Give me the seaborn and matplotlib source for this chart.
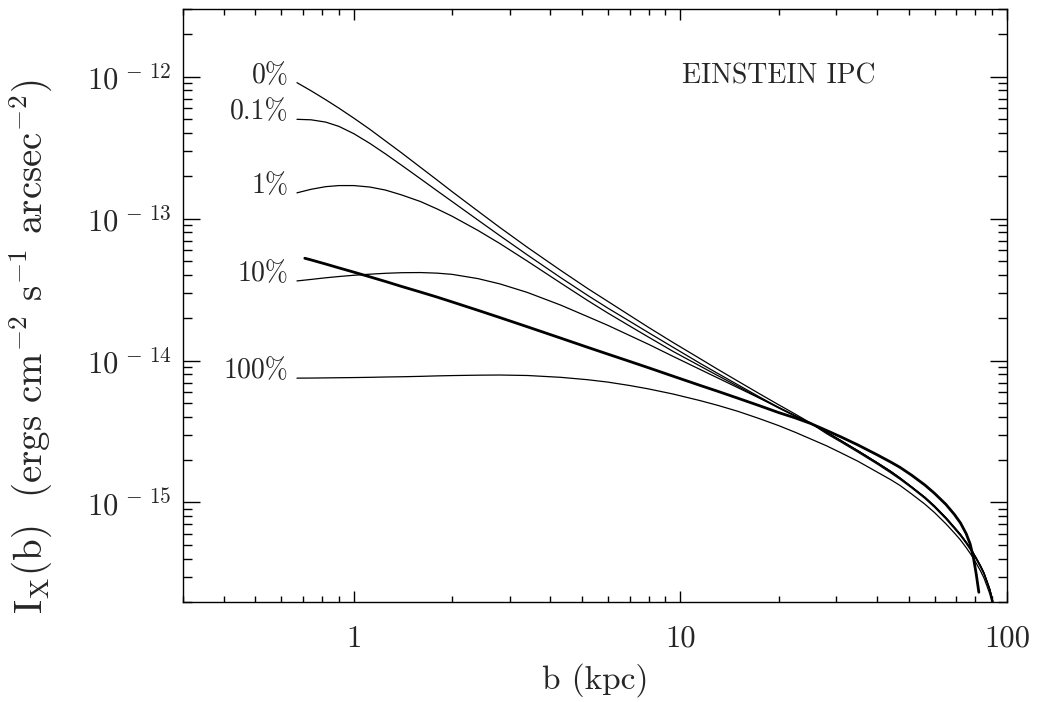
import matplotlib
matplotlib.use("Agg")
import matplotlib.pyplot as plt
import numpy as np
import pandas as pd
import seaborn as sns
from matplotlib.ticker import FixedLocator, FixedFormatter, LogLocator, NullFormatter

# Projected radius b (kpc) at which each model profile is sampled
b_core = [0.67, 0.74, 0.82, 0.9, 1.0, 1.12, 1.25, 1.4, 1.6, 1.8, 2.0, 2.4, 2.8, 3.4,
          4.3, 5.2, 6.0, 7.0, 8.0, 9.5, 11.5, 13, 15, 17.5, 20, 22.5, 25]
b_tail = [28, 31, 35, 40, 44, 47, 51, 56, 60, 65, 69, 72, 75, 78, 80.5, 83, 85,
          87, 88.5, 90, 91.2, 92.3]
# Radii of the observed (thick) profile
b_obs = [0.708, 0.74, 0.82, 0.9, 1.0, 1.12, 1.25, 1.4, 1.6, 1.8, 2.0, 2.4, 2.8, 3.4,
         4.3, 5.2, 6.0, 7.0, 8.0, 9.5, 11.5, 13, 15, 17.5, 20, 22.5, 25,
         28, 31, 35, 40, 44, 47, 51, 56, 60, 65, 69, 72, 75, 77.1, 78.9, 80.5, 82.0]

# Surface brightness in units of 1e-15 ergs cm^-2 s^-1 arcsec^-2
I_0pct = [908, 796, 689, 601, 511, 426, 353, 291, 230, 187, 155, 113, 86.7, 62.8,
          43.2, 32.2, 26.1, 20.8, 17.1, 13.4, 10.3, 8.69, 7.16, 5.82, 4.88, 4.19, 3.64]
I_01pct = [501, 497, 479, 447, 397, 339, 286, 238, 191, 157, 132, 97.7, 75.9, 55.5,
           38.4, 28.8, 23.4, 18.9, 15.7, 12.4, 9.55, 8.13, 6.75, 5.53, 4.68, 4.06, 3.62]
I_1pct = [152, 161, 168, 171, 171, 167, 159, 147, 132, 117, 104, 82.6, 66.8, 50.2,
          35.2, 26.5, 21.6, 17.5, 14.6, 11.6, 9.14, 7.85, 6.58, 5.45, 4.63, 4.05, 3.62]
I_10pct = [36.4, 37.3, 38.3, 39.1, 39.9, 40.6, 41.2, 41.6, 41.7, 41.3, 40.5, 37.8, 34.7, 30.2,
           24.6, 20.4, 17.7, 15.0, 13.0, 10.7, 8.65, 7.55, 6.44, 5.42, 4.67, 4.09, 3.63]
I_100pct = [7.52, 7.53, 7.55, 7.57, 7.59, 7.62, 7.66, 7.69, 7.74, 7.80, 7.84, 7.89, 7.91, 7.85,
            7.62, 7.33, 7.05, 6.67, 6.31, 5.81, 5.22, 4.84, 4.39, 3.89, 3.48, 3.12, 2.81]

# Outer profiles, where the low-dropout models run together
tail_low = [3.13, 2.73, 2.31, 1.91, 1.66, 1.49, 1.29, 1.09, 0.944, 0.782, 0.668,
            0.596, 0.525, 0.459, 0.406, 0.357, 0.319, 0.275, 0.246, 0.213, 0.180, 0.150]
tail_10pct = [3.06, 2.67, 2.26, 1.87, 1.62, 1.46, 1.27, 1.07, 0.925, 0.766, 0.655,
              0.584, 0.515, 0.450, 0.398, 0.350, 0.313, 0.270, 0.241, 0.209, 0.176, 0.147]
tail_100pct = [2.51, 2.24, 1.95, 1.64, 1.45, 1.32, 1.15, 0.975, 0.849, 0.708, 0.610,
               0.545, 0.481, 0.422, 0.373, 0.329, 0.294, 0.255, 0.228, 0.197, 0.167, 0.139]

I_obs = [52.6, 51.2, 47.9, 45.0, 42.0, 38.9, 36.1, 33.3, 30.4, 28.0, 25.9, 22.6, 20.1, 17.3,
         14.4, 12.4, 11.1, 9.86, 8.89, 7.76, 6.68, 6.08, 5.43, 4.80, 4.30, 3.94, 3.61,
         3.22, 2.90, 2.54, 2.17, 1.93, 1.77, 1.56, 1.33, 1.16, 0.970, 0.824, 0.719, 0.603,
         0.511, 0.410, 0.313, 0.233]

model_labels = ["0%", "0.1%", "1%", "10%", "100%"]
model_core = [I_0pct, I_01pct, I_1pct, I_10pct, I_100pct]
model_tail = [tail_low, tail_low, tail_low, tail_10pct, tail_100pct]
unit = 1e-15

y_ticks = [1e-15, 1e-14, 1e-13, 1e-12]
y_ticklabels = [r"$10^{\,-\,15}$", r"$10^{\,-\,14}$", r"$10^{\,-\,13}$", r"$10^{\,-\,12}$"]
x_ticks = [1, 10, 100]
x_ticklabels = ["1", "10", "100"]

sns.set_style("ticks")
plt.rcParams.update({
    "font.family": ["cmr10", "DejaVu Serif"],
    "mathtext.fontset": "cm",
    "axes.unicode_minus": False,
    "axes.linewidth": 1.0,
    "axes.edgecolor": "black",
})

W, H = 1038, 702
fig = plt.figure(figsize=(W / 100, H / 100), dpi=100)
ax = fig.add_axes([183 / W, 1 - 601.7 / H, (1007 - 183) / W, (601.7 - 9) / H])
ax.set_xscale("log")
ax.set_yscale("log")

b_model = b_core + b_tail
rows = []
for lab, core, tail in zip(model_labels, model_core, model_tail):
    vals = core + tail
    assert len(vals) == len(b_model)
    for b, v in zip(b_model, vals):
        rows.append({"model": lab, "b": b, "I": v * unit})
models = pd.DataFrame(rows)
assert len(b_obs) == len(I_obs)
obs = pd.DataFrame({"b": b_obs, "I": np.array(I_obs) * unit})

sns.lineplot(data=models, x="b", y="I", units="model", estimator=None, sort=False,
             color="black", lw=0.9, legend=False, ax=ax)
sns.lineplot(data=obs, x="b", y="I", estimator=None, sort=False,
             color="black", lw=2.0, legend=False, ax=ax)

ax.set_xlim(0.3, 100)
ax.set_ylim(2e-16, 3e-12)

ax.xaxis.set_major_locator(FixedLocator(x_ticks))
ax.xaxis.set_major_formatter(FixedFormatter(x_ticklabels))
ax.xaxis.set_minor_locator(LogLocator(base=10, subs=np.arange(2, 10), numticks=20))
ax.xaxis.set_minor_formatter(NullFormatter())
ax.yaxis.set_major_locator(FixedLocator(y_ticks))
ax.yaxis.set_major_formatter(FixedFormatter(y_ticklabels))
ax.yaxis.set_minor_locator(LogLocator(base=10, subs=np.arange(2, 10), numticks=20))
ax.yaxis.set_minor_formatter(NullFormatter())

ax.tick_params(which="both", direction="in", top=True, right=True, color="black", width=1.0)
ax.tick_params(axis="x", which="major", length=8, pad=17, labelsize=22)
ax.tick_params(axis="x", which="minor", length=4)
ax.tick_params(axis="y", which="major", length=12.5, pad=8, labelsize=22)
ax.tick_params(axis="y", which="minor", length=6.3)
ax.set_xlabel("")
ax.set_ylabel("")

# Curve labels at the inner end of each model profile
for lab, core in zip(model_labels, model_core):
    ax.annotate(lab, xy=(b_core[0], core[0] * unit), xytext=(-6, 0),
                textcoords="offset points", ha="right", va="baseline", fontsize=20)

ax.text(0.605, 0.8747, "EINSTEIN IPC", transform=ax.transAxes, ha="left",
        va="baseline", fontsize=20)

fig.text(595 / W, 1 - 680 / H, "b (kpc)", ha="center", va="center", fontsize=24)
fig.text(31 / W, 1 - 347 / H,
         r"I$_{\rm X}$(b)  (ergs cm$^{-2}$ s$^{-1}$ arcsec$^{-2}$)",
         rotation=90, ha="center", va="center", fontsize=28)

fig.savefig("out.png", dpi=100)
